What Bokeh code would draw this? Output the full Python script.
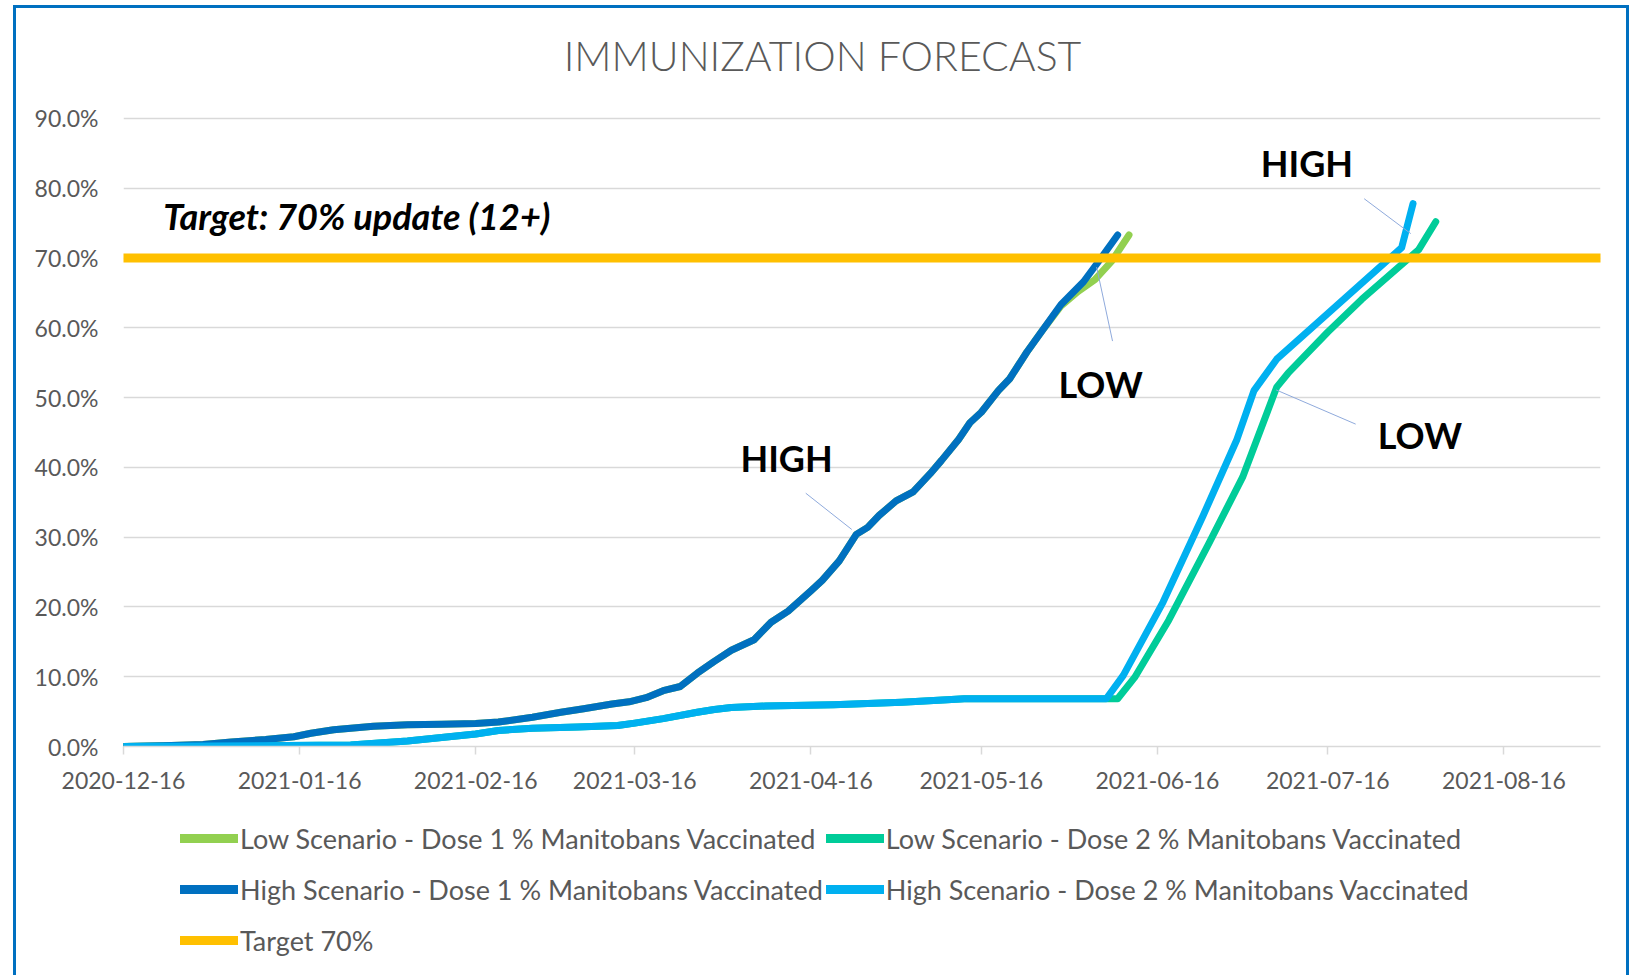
import pandas as pd
from bokeh.plotting import figure
from bokeh.layouts import column
from bokeh.models import (ColumnDataSource, Range1d, FixedTicker, DatetimeTickFormatter,
                          PrintfTickFormatter, Legend, LegendItem, Label)
from bokeh.embed import file_html
from bokeh.resources import INLINE

# ---------------- data ----------------
title_text = "IMMUNIZATION FORECAST"
tick_dates = ["2020-12-16", "2021-01-16", "2021-02-16", "2021-03-16", "2021-04-16",
              "2021-05-16", "2021-06-16", "2021-07-16", "2021-08-16"]
y_ticks = [0, 10, 20, 30, 40, 50, 60, 70, 80, 90]

high1_dates = ["2020-12-16", "2020-12-23", "2020-12-30", "2021-01-04", "2021-01-10", "2021-01-15",
               "2021-01-18", "2021-01-22", "2021-01-29", "2021-02-04", "2021-02-10", "2021-02-16",
               "2021-02-20", "2021-02-26", "2021-03-03", "2021-03-07", "2021-03-12", "2021-03-15",
               "2021-03-18", "2021-03-21", "2021-03-24", "2021-03-27", "2021-03-30", "2021-04-02",
               "2021-04-06", "2021-04-09", "2021-04-12", "2021-04-16", "2021-04-18", "2021-04-21",
               "2021-04-24", "2021-04-26", "2021-04-28", "2021-05-01", "2021-05-04", "2021-05-07",
               "2021-05-09", "2021-05-12", "2021-05-14", "2021-05-16", "2021-05-19", "2021-05-21",
               "2021-05-24", "2021-05-27", "2021-05-30", "2021-06-03", "2021-06-06", "2021-06-09"]
high1_pct = [0.0, 0.1, 0.3, 0.65, 1.0, 1.4,
             1.9, 2.4, 2.9, 3.1, 3.2, 3.3,
             3.5, 4.2, 4.9, 5.4, 6.1, 6.4,
             7.0, 8.0, 8.6, 10.5, 12.2, 13.8,
             15.3, 17.8, 19.4, 22.3, 23.8, 26.6,
             30.4, 31.4, 33.1, 35.2, 36.5, 39.1,
             41.0, 44.0, 46.4, 47.9, 51.0, 52.7,
             56.5, 59.9, 63.3, 66.6, 69.9, 73.3]

low1_dates = high1_dates[:44] + ["2021-05-30", "2021-06-02", "2021-06-05", "2021-06-08", "2021-06-11"]
low1_pct = high1_pct[:44] + [63.1, 65.2, 66.9, 69.6, 73.3]

high2_dates = ["2020-12-16", "2021-01-25", "2021-01-30", "2021-02-04", "2021-02-10", "2021-02-16",
               "2021-02-20", "2021-02-26", "2021-03-06", "2021-03-13", "2021-03-16", "2021-03-21",
               "2021-03-27", "2021-03-30", "2021-04-02", "2021-04-08", "2021-04-20", "2021-05-02",
               "2021-05-10", "2021-05-13", "2021-06-07", "2021-06-10", "2021-06-17", "2021-06-24",
               "2021-06-30", "2021-07-03", "2021-07-07", "2021-07-29", "2021-07-31"]
high2_pct = [0.0, 0.2, 0.5, 0.8, 1.3, 1.8,
             2.3, 2.6, 2.8, 3.0, 3.35, 4.0,
             4.9, 5.3, 5.6, 5.8, 6.0, 6.35,
             6.7, 6.85, 6.85, 10.2, 20.7, 33.0,
             44.0, 51.0, 55.5, 71.5, 77.8]

low2_dates = high2_dates[:20] + ["2021-06-09", "2021-06-12", "2021-06-18", "2021-06-25", "2021-07-01",
                                 "2021-07-07", "2021-07-09", "2021-07-16", "2021-07-22", "2021-08-01",
                                 "2021-08-04"]
low2_pct = high2_pct[:20] + [6.85, 9.9, 18.1, 29.0, 38.6, 51.5, 53.5, 59.4, 64.1, 71.2, 75.2]

target_dates = ["2020-12-16", "2021-09-02"]
target_pct = [70.0, 70.0]

series_names = ["Low Scenario - Dose 1 % Manitobans Vaccinated",
                "Low Scenario - Dose 2 % Manitobans Vaccinated",
                "High Scenario - Dose 1 % Manitobans Vaccinated",
                "High Scenario - Dose 2 % Manitobans Vaccinated",
                "Target 70%"]
series_colors = ["#92D050", "#00CC99", "#0070C0", "#00B0F0", "#FFC000"]
series_widths = [7, 7, 7, 7, 9]

# ---------------- main chart ----------------
base = pd.Timestamp("2020-12-16")


def day(d):
    return base + pd.to_timedelta(d, unit="D")


FONT = "Lato"
GRAY = "#595959"
W = 1610
H_MAIN = 800
H_LEG = 167

# frame top sits at the canvas top, so the title (a label) lives inside the frame
p = figure(width=W, height=H_MAIN, output_backend="svg", toolbar_location=None,
           x_axis_type="datetime",
           x_range=Range1d(pd.Timestamp("2020-12-16"), pd.Timestamp("2021-09-02")),
           y_range=Range1d(0, 105.76),
           min_border_left=107, min_border_right=26, min_border_top=0,
           min_border_bottom=H_MAIN - 738)
p.outline_line_color = None
p.background_fill_color = "white"
p.border_fill_color = "white"
p.xgrid.grid_line_color = None
p.ygrid.ticker = FixedTicker(ticks=y_ticks)
p.ygrid.grid_line_color = "#D9D9D9"
p.ygrid.grid_line_width = 1.5

p.xaxis.ticker = FixedTicker(ticks=[pd.Timestamp(d).value / 1e6 for d in tick_dates])
p.xaxis.formatter = DatetimeTickFormatter(days="%Y-%m-%d", months="%Y-%m-%d", years="%Y-%m-%d",
                                          hours="%Y-%m-%d", minutes="%Y-%m-%d")
p.xaxis.axis_line_color = "#D9D9D9"
p.xaxis.axis_line_width = 1.5
p.xaxis.major_tick_line_color = "#D9D9D9"
p.xaxis.major_tick_line_width = 1.5
p.xaxis.major_tick_out = 8
p.xaxis.major_tick_in = 0
p.xaxis.minor_tick_line_color = None
p.xaxis.minor_tick_out = 0
p.xaxis.major_label_standoff = 17
p.xaxis.major_label_text_font = FONT
p.xaxis.major_label_text_font_size = "23px"
p.xaxis.major_label_text_color = GRAY

p.yaxis.ticker = FixedTicker(ticks=y_ticks)
p.yaxis.formatter = PrintfTickFormatter(format="%.1f%%")
p.yaxis.axis_line_color = None
p.yaxis.major_tick_line_color = None
p.yaxis.minor_tick_line_color = None
p.yaxis.major_tick_out = 0
p.yaxis.minor_tick_out = 0
p.yaxis.major_label_standoff = 25
p.yaxis.major_label_text_font = FONT
p.yaxis.major_label_text_font_size = "23px"
p.yaxis.major_label_text_color = GRAY

all_dates = [low1_dates, low2_dates, high1_dates, high2_dates, target_dates]
all_vals = [low1_pct, low2_pct, high1_pct, high2_pct, target_pct]
sources = [ColumnDataSource(dict(x=pd.to_datetime(d), y=v)) for d, v in zip(all_dates, all_vals)]
for src, col, w in zip(sources, series_colors, series_widths):
    p.line("x", "y", source=src, line_color=col, line_width=w,
           line_cap="round", line_join="round")

# leader lines (callout connectors)
lead_x0 = [120.1, 171.3, 218.4, 202.9]
lead_y0 = [36.3, 68.7, 78.5, 51.1]
lead_x1 = [128.2, 174.1, 226.6, 216.9]
lead_y1 = [31.1, 58.1, 73.5, 46.2]
p.segment(x0=[day(d) for d in lead_x0], y0=lead_y0, x1=[day(d) for d in lead_x1], y1=lead_y1,
          line_color="#8FAADC", line_width=1)

# callout labels
callouts = [("HIGH", 108.6, 41.3), ("LOW", 164.6, 52.0), ("HIGH", 200.2, 83.6), ("LOW", 220.8, 44.7)]
for txt, dx, vy in callouts:
    p.add_layout(Label(x=day(dx).value / 1e6, y=vy, text=txt, text_font=FONT,
                       text_font_style="bold", text_font_size="36px", text_color="black",
                       text_align="left", text_baseline="alphabetic"))

p.add_layout(Label(x=day(7.0).value / 1e6, y=76.0, text="Target:  70% update (12+)",
                   text_font=FONT, text_font_style="bold italic", text_font_size="36px",
                   text_color="black", text_align="left", text_baseline="alphabetic"))

# chart title
p.add_layout(Label(x=699, y=691, x_units="screen", y_units="screen", text=title_text,
                   text_font="Lato Light", text_font_size="41px", text_color=GRAY,
                   text_align="center", text_baseline="alphabetic"))

# ---------------- legend strip ----------------
pl = figure(width=W, height=H_LEG, output_backend="svg", toolbar_location=None,
            x_range=Range1d(0, 1), y_range=Range1d(0, 1),
            x_axis_location=None, y_axis_location=None,
            min_border_left=0, min_border_right=0, min_border_top=0, min_border_bottom=0)
pl.outline_line_color = None
pl.grid.visible = False
pl.background_fill_color = "white"
pl.border_fill_color = "white"
# same series (outside this strip's view) so that the legend draws their line keys
leg_renderers = [pl.line("x", "y", source=src, line_color=c, line_width=9, line_cap="round")
                 for src, c in zip(sources, series_colors)]
items = [LegendItem(label=n, renderers=[r]) for n, r in zip(series_names, leg_renderers)]
legend = Legend(items=items, orientation="horizontal", ncols=2, location=(57, 11),
                glyph_width=58, glyph_height=48, label_height=48, label_standoff=2,
                spacing=3, padding=0, margin=0, border_line_color=None,
                background_fill_alpha=0, label_text_font=FONT, label_text_font_size="27px",
                label_text_color=GRAY)
pl.add_layout(legend, "center")

layout = column(p, pl, spacing=0)
layout.styles = {"border-top": "3px solid #0070C0", "border-left": "3px solid #0070C0",
                 "border-right": "3px solid #0070C0", "margin-left": "13px", "margin-top": "5px"}

open("out.html", "w").write(file_html(layout, INLINE))
